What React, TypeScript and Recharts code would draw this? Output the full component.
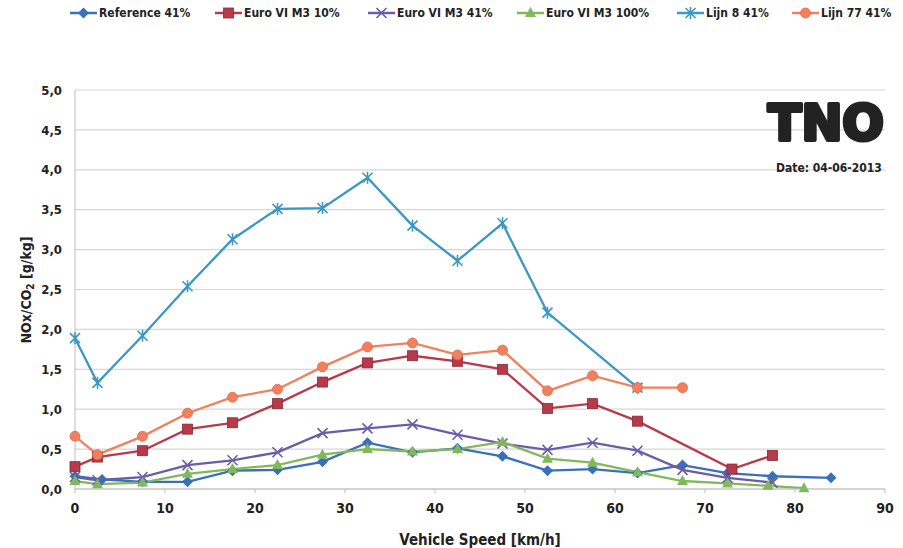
import React from 'react';
import { LineChart, Line, XAxis, YAxis, CartesianGrid } from 'recharts';

// values
const refSpeed = [0, 3, 7.5, 12.5, 17.5, 22.5, 27.5, 32.5, 37.5, 42.5, 47.5, 52.5, 57.5, 62.5, 67.5, 72.5, 77.5, 84];
const refNox = [0.16, 0.12, 0.09, 0.09, 0.23, 0.24, 0.34, 0.58, 0.46, 0.51, 0.41, 0.23, 0.25, 0.2, 0.3, 0.2, 0.16, 0.14];

const e10Speed = [0, 2.5, 7.5, 12.5, 17.5, 22.5, 27.5, 32.5, 37.5, 42.5, 47.5, 52.5, 57.5, 62.5, 73, 77.5];
const e10Nox = [0.28, 0.4, 0.48, 0.75, 0.83, 1.07, 1.34, 1.58, 1.67, 1.6, 1.5, 1.01, 1.07, 0.85, 0.25, 0.42];

const e41Speed = [0, 2.5, 7.5, 12.5, 17.5, 22.5, 27.5, 32.5, 37.5, 42.5, 47.5, 52.5, 57.5, 62.5, 67.5, 72.5, 77.5];
const e41Nox = [0.15, 0.11, 0.15, 0.3, 0.36, 0.46, 0.7, 0.76, 0.81, 0.68, 0.57, 0.49, 0.58, 0.48, 0.24, 0.14, 0.08];

const e100Speed = [0, 2.5, 7.5, 12.5, 17.5, 22.5, 27.5, 32.5, 37.5, 42.5, 47.5, 52.5, 57.5, 62.5, 67.5, 72.5, 77, 81];
const e100Nox = [0.1, 0.06, 0.08, 0.19, 0.25, 0.3, 0.43, 0.5, 0.47, 0.5, 0.59, 0.38, 0.33, 0.21, 0.1, 0.07, 0.04, 0.01];

const l8Speed = [0, 2.5, 7.5, 12.5, 17.5, 22.5, 27.5, 32.5, 37.5, 42.5, 47.5, 52.5, 62.5];
const l8Nox = [1.89, 1.33, 1.92, 2.54, 3.13, 3.51, 3.52, 3.9, 3.3, 2.86, 3.33, 2.21, 1.27];

const l77Speed = [0, 2.5, 7.5, 12.5, 17.5, 22.5, 27.5, 32.5, 37.5, 42.5, 47.5, 52.5, 57.5, 62.5, 67.5];
const l77Nox = [0.66, 0.43, 0.66, 0.95, 1.15, 1.25, 1.53, 1.78, 1.83, 1.68, 1.74, 1.23, 1.42, 1.27, 1.27];

const xTicks = [0, 10, 20, 30, 40, 50, 60, 70, 80, 90];
const yTicks = [0, 0.5, 1, 1.5, 2, 2.5, 3, 3.5, 4, 4.5, 5];

const zip = (xs: number[], ys: number[]) => xs.map((x, i) => ({ x, y: ys[i] }));

const SERIES = [
  { name: 'Reference 41%', data: zip(refSpeed, refNox), color: '#3A70B8', shape: 'diamond' },
  { name: 'Euro VI M3 10%', data: zip(e10Speed, e10Nox), color: '#B8394A', shape: 'square' },
  { name: 'Euro VI M3 41%', data: zip(e41Speed, e41Nox), color: '#6A5CA6', shape: 'cross' },
  { name: 'Euro VI M3 100%', data: zip(e100Speed, e100Nox), color: '#82B85C', shape: 'triangle' },
  { name: 'Lijn 8 41%', data: zip(l8Speed, l8Nox), color: '#3C97C2', shape: 'star' },
  { name: 'Lijn 77 41%', data: zip(l77Speed, l77Nox), color: '#F0805E', shape: 'circle' },
];

// legend item left edges, matched to the reference layout
const legendLeft = [69, 214, 367, 516, 676, 791];

const FONT = '"DejaVu Sans Condensed", "DejaVu Sans", sans-serif';

function Marker({ shape, cx, cy, color }: { shape: string; cx: number; cy: number; color: string }) {
  if (cx == null || cy == null) return null;
  switch (shape) {
    case 'diamond':
      return <polygon points={`${cx},${cy - 5.5} ${cx + 5.5},${cy} ${cx},${cy + 5.5} ${cx - 5.5},${cy}`} fill={color} />;
    case 'square':
      return <rect x={cx - 5} y={cy - 5} width={10} height={10} fill={color} stroke="#8a2a36" strokeWidth={0.8} />;
    case 'triangle':
      return <polygon points={`${cx},${cy - 6} ${cx + 5.5},${cy + 4} ${cx - 5.5},${cy + 4}`} fill={color} />;
    case 'circle':
      return <circle cx={cx} cy={cy} r={5} fill={color} stroke="#e56a45" strokeWidth={0.8} />;
    case 'cross':
      return (
        <path d={`M${cx - 5},${cy - 5}L${cx + 5},${cy + 5}M${cx - 5},${cy + 5}L${cx + 5},${cy - 5}`} stroke={color} strokeWidth={1.6} />
      );
    case 'star':
      return (
        <path
          d={`M${cx - 5},${cy - 5}L${cx + 5},${cy + 5}M${cx - 5},${cy + 5}L${cx + 5},${cy - 5}M${cx},${cy - 6}L${cx},${cy + 6}`}
          stroke={color}
          strokeWidth={1.6}
        />
      );
    default:
      return null;
  }
}

function LegendRow() {
  return (
    <>
      {SERIES.map((s, i) => (
        <div
          key={s.name}
          style={{
            position: 'absolute',
            left: legendLeft[i],
            top: 6,
            display: 'flex',
            alignItems: 'center',
            fontFamily: FONT,
            fontWeight: 'bold',
            fontSize: 12,
            color: '#222',
            whiteSpace: 'nowrap',
          }}
        >
          <svg width={29} height={14}>
            <line x1={1} y1={7} x2={28} y2={7} stroke={s.color} strokeWidth={2.5} />
            <Marker shape={s.shape} cx={14.5} cy={7} color={s.color} />
          </svg>
          <span style={{ marginLeft: 1 }}>{s.name}</span>
        </div>
      ))}
    </>
  );
}

export default function App() {
  return (
    <div style={{ position: 'absolute', left: 0, top: 0, width: 903, height: 548, background: '#fff' }}>
      <LineChart width={903} height={548} margin={{ top: 90, right: 18, bottom: 0, left: 0 }}>
        <CartesianGrid vertical={false} stroke="#d6d6d6" strokeWidth={1.2} />
        <XAxis
          type="number"
          dataKey="x"
          domain={[0, 90]}
          ticks={xTicks}
          height={59}
          stroke="#bdbdbd"
          tickSize={4}
          tickMargin={10}
          tick={{ fill: '#222', fontSize: 14, fontFamily: FONT, fontWeight: 'bold' }}
          label={{
            value: 'Vehicle Speed [km/h]',
            position: 'insideBottom',
            offset: 3,
            fill: '#222',
            fontSize: 15,
            fontFamily: FONT,
            fontWeight: 'bold',
          }}
        />
        <YAxis
          type="number"
          domain={[0, 5]}
          ticks={yTicks}
          width={75}
          stroke="#bdbdbd"
          tickLine={false}
          tickMargin={7}
          tickFormatter={(v: number) => v.toFixed(1).replace('.', ',')}
          tick={{ fill: '#222', fontSize: 13, fontFamily: FONT, fontWeight: 'bold' }}
        />
        {SERIES.map((s) => (
          <Line
            key={s.name}
            data={s.data}
            dataKey="y"
            name={s.name}
            stroke={s.color}
            strokeWidth={2.3}
            isAnimationActive={false}
            dot={(p: any) => <Marker key={`${s.name}-${p.index}`} shape={s.shape} cx={p.cx} cy={p.cy} color={s.color} />}
            activeDot={false}
          />
        ))}
      </LineChart>
      <LegendRow />
      <div
        style={{
          position: 'absolute',
          left: 27,
          top: 290,
          transform: 'translate(-50%, -50%) rotate(-90deg)',
          fontFamily: FONT,
          fontWeight: 'bold',
          fontSize: 14,
          color: '#222',
          whiteSpace: 'nowrap',
        }}
      >
        NOx/CO<sub style={{ fontSize: 10 }}>2</sub> [g/kg]
      </div>
      <svg style={{ position: 'absolute', left: 740, top: 80, overflow: 'visible' }} width={160} height={75}>
        <text
          x={28}
          y={60}
          fontFamily='"DejaVu Sans", sans-serif'
          fontWeight="bold"
          fontSize={50}
          fill="#222"
          stroke="#222"
          strokeWidth={4}
          strokeLinejoin="round"
          textLength={116}
          lengthAdjust="spacingAndGlyphs"
        >
          TNO
        </text>
      </svg>
      <div
        style={{
          position: 'absolute',
          left: 776,
          top: 161,
          fontFamily: FONT,
          fontWeight: 'bold',
          fontSize: 12,
          color: '#222',
          whiteSpace: 'nowrap',
        }}
      >
        Date: 04-06-2013
      </div>
    </div>
  );
}
